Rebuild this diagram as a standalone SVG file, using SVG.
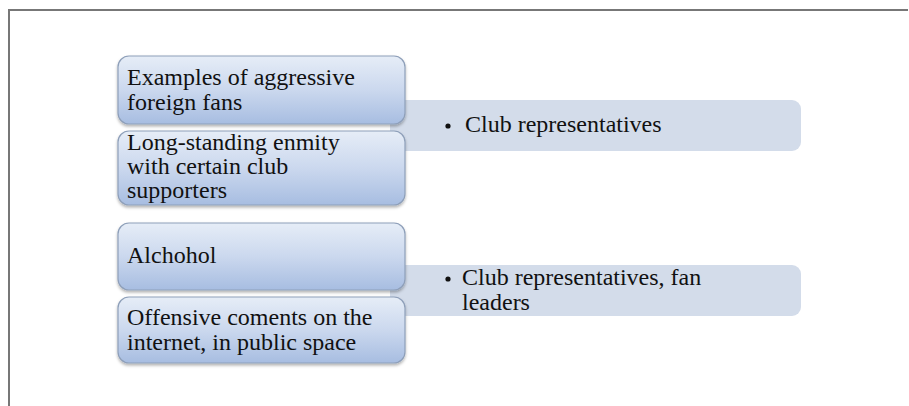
<svg xmlns="http://www.w3.org/2000/svg" width="909" height="406" viewBox="0 0 909 406">
<defs>
<linearGradient id="g" x1="0" y1="0" x2="0" y2="1">
<stop offset="0" stop-color="#e6edf7"/>
<stop offset="0.5" stop-color="#cbd8ee"/>
<stop offset="1" stop-color="#a7bde1"/>
</linearGradient>
<filter id="sh" x="-5%" y="-10%" width="110%" height="130%">
<feDropShadow dx="0" dy="2" stdDeviation="1.5" flood-color="#000" flood-opacity="0.3"/>
</filter>
<style>
.t{font-family:"Liberation Serif","Times New Roman",serif;font-size:24px;fill:#111}
.lb{fill:url(#g);stroke:#8e9fb9;stroke-width:1.2;filter:url(#sh)}
.rb{fill:#d3dcea}
</style>
</defs>
<rect width="909" height="406" fill="#fff"/>
<path d="M9 406 V10 H908" fill="none" stroke="#777" stroke-width="2"/>
<g id="result1">
<rect class="rb" x="390" y="100" width="411" height="51" rx="9"/>
<circle cx="448" cy="126" r="2.6" fill="#111"/>
<text class="t" x="465" y="132">Club representatives</text>
</g>
<g id="result2">
<rect class="rb" x="390" y="265" width="411" height="51" rx="9"/>
<circle cx="448" cy="279" r="2.6" fill="#111"/>
<text class="t" x="462" y="285">Club representatives, fan</text>
<text class="t" x="462" y="310">leaders</text>
</g>
<g id="cause1">
<rect class="lb" x="118" y="56" width="287" height="68" rx="11"/>
<text class="t" x="127" y="85">Examples of aggressive</text>
<text class="t" x="127" y="110">foreign fans</text>
</g>
<g id="cause2">
<rect class="lb" x="118" y="131" width="287" height="74" rx="11"/>
<text class="t" x="127" y="150">Long-standing enmity</text>
<text class="t" x="127" y="174">with certain club</text>
<text class="t" x="127" y="198">supporters</text>
</g>
<g id="cause3">
<rect class="lb" x="118" y="223" width="287" height="67" rx="11"/>
<text class="t" x="127" y="263">Alchohol</text>
</g>
<g id="cause4">
<rect class="lb" x="118" y="297" width="287" height="66" rx="11"/>
<text class="t" x="127" y="325">Offensive coments on the</text>
<text class="t" x="127" y="350">internet, in public space</text>
</g>
<g id="connectors"></g>
</svg>
